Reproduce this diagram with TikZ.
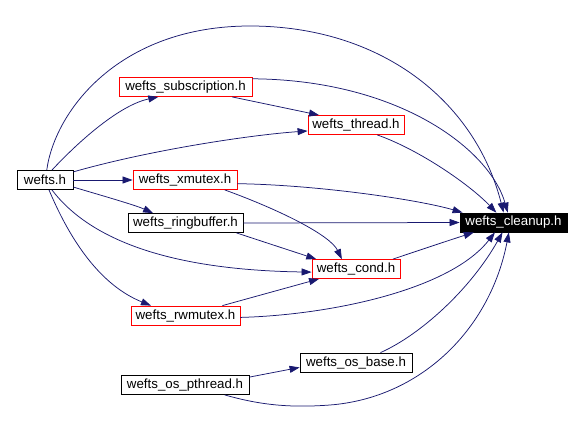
\documentclass[tikz,border=0pt]{standalone}
\usepackage{fontspec}
\setmainfont{Liberation Sans}
\usetikzlibrary{arrows.meta}
\definecolor{edgeblue}{HTML}{191970}
\begin{document}
\begin{tikzpicture}[x=1pt,y=-1pt,
  box/.style={draw=black, line width=0.8pt, minimum height=19pt, inner sep=0pt, font=\fontsize{13.3}{15}\selectfont, fill=white},
  redbox/.style={box, draw=red},
  dark/.style={box, fill=black, text=white},
  edge/.style={draw=edgeblue, line width=0.75pt, -{Triangle[length=10pt,width=7pt]}}]
\useasboundingbox (0,0) rectangle (582,429);
\fill[white] (0,0) rectangle (582,429);
\node[box, minimum width=56pt] (wefts) at (45,180) {wefts.h};
\node[redbox, minimum width=133pt] (subs) at (185.5,87) {wefts\_subscription.h};
\node[redbox, minimum width=96pt] (thread) at (356,125) {wefts\_thread.h};
\node[redbox, minimum width=104pt] (xmutex) at (185,180) {wefts\_xmutex.h};
\node[box, minimum width=115pt] (ring) at (185.5,223) {wefts\_ringbuffer.h};
\node[dark, minimum width=107pt] (cleanup) at (513.5,222.5) {wefts\_cleanup.h};
\node[redbox, minimum width=88pt] (cond) at (356,269) {wefts\_cond.h};
\node[redbox, minimum width=109pt] (rw) at (185.5,315.5) {wefts\_rwmutex.h};
\node[box, minimum width=112pt] (osbase) at (356,362.5) {wefts\_os\_base.h};
\node[box, minimum width=128pt] (ospth) at (185,385) {wefts\_os\_pthread.h};

\path[edge] (wefts.80) .. controls (55,110) and (120,26) .. (250,26) .. controls (380,26) and (475,100) .. (cleanup.135);
\path[edge] (wefts.55) .. controls (80,140) and (120,105) .. (subs.200);
\path[edge] (wefts.16) .. controls (150,150) and (250,135) .. (thread.187);
\path[edge] (wefts.east) -- (xmutex.west);
\path[edge] (wefts.-14) .. controls (100,195) and (135,205) .. (ring.163);
\path[edge] (wefts.-55) .. controls (90,240) and (170,270) .. (cond.184);
\path[edge] (wefts.-68) .. controls (70,240) and (100,285) .. (rw.164);
\path[edge] (subs.-12) -- (thread.165);
\path[edge] (subs.7) .. controls (400,80) and (490,150) .. (cleanup.120);
\path[edge] (thread.-25) .. controls (420,150) and (470,185) .. (cleanup.150);
\path[edge] (xmutex.-4) .. controls (320,185) and (420,200) .. (cleanup.169);
\path[edge] (xmutex.-14) .. controls (280,210) and (330,235) .. (cond.145);
\path[edge] (ring.east) -- (cleanup.west);
\path[edge] (ring.-11) -- (cond.166);
\path[edge] (cond.15) .. controls (420,250) and (450,240) .. (cleanup.194);
\path[edge] (rw.15) -- (cond.195);
\path[edge] (rw.-2) .. controls (330,315) and (450,290) .. (cleanup.208);
\path[edge] (osbase.22) .. controls (420,335) and (470,290) .. (cleanup.222);
\path[edge] (ospth.7) -- (osbase.185);
\path[edge] (ospth.-14) .. controls (260,405) and (290,408) .. (330,405) .. controls (420,398) and (490,330) .. (cleanup.245);
\end{tikzpicture}
\end{document}
